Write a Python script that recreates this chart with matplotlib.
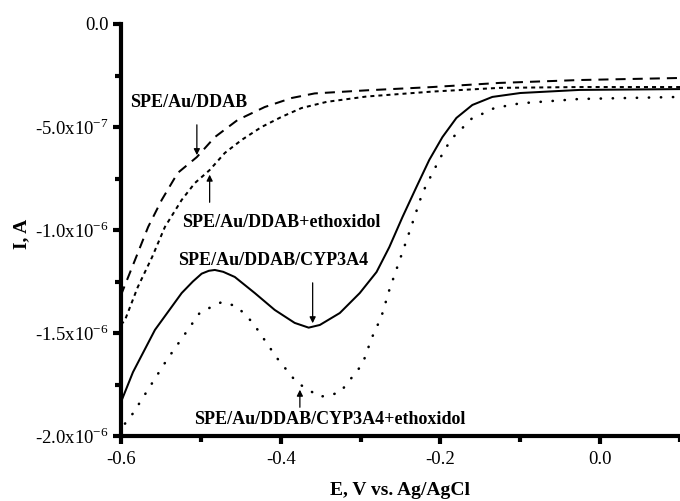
import matplotlib
matplotlib.use('Agg')
import matplotlib.pyplot as plt
from matplotlib.ticker import MultipleLocator, FixedLocator

plt.rcParams['font.family'] = ['Liberation Serif', 'DejaVu Serif']
plt.rcParams['mathtext.fontset'] = 'custom'
plt.rcParams['mathtext.rm'] = 'Liberation Serif'

# potentials in V, currents in uA (scaled to A when plotted)
e_ddab = [-0.6, -0.599, -0.5825, -0.566, -0.549, -0.529, -0.505, -0.4825, -0.454,
          -0.42, -0.386, -0.3575, -0.2925, -0.21, -0.126, -0.026, 0.1]
i_ddab = [-1.32, -1.306, -1.146, -0.985, -0.854, -0.723, -0.646, -0.549, -0.466,
          -0.403, -0.359, -0.337, -0.322, -0.306, -0.286, -0.272, -0.262]

e_ddab_eth = [-0.6, -0.595, -0.579, -0.561, -0.545, -0.524, -0.5075, -0.489, -0.47,
              -0.449, -0.424, -0.399, -0.374, -0.3425, -0.2925, -0.21, -0.126,
              -0.026, 0.1]
i_ddab_eth = [-1.46, -1.437, -1.277, -1.131, -0.985, -0.854, -0.772, -0.709, -0.626,
              -0.563, -0.500, -0.451, -0.408, -0.378, -0.352, -0.328, -0.310,
              -0.306, -0.306]

e_cyp = [-0.6, -0.585, -0.5575, -0.524, -0.51, -0.499, -0.49, -0.4825, -0.472,
         -0.4575, -0.4325, -0.4075, -0.3825, -0.365, -0.351, -0.326, -0.301, -0.28,
         -0.264, -0.2475, -0.23, -0.214, -0.1975, -0.18, -0.16, -0.135, -0.1,
         -0.026, 0.1]
i_cyp = [-1.835, -1.69, -1.485, -1.306, -1.25, -1.212, -1.198, -1.194, -1.203,
         -1.228, -1.306, -1.388, -1.451, -1.474, -1.461, -1.403, -1.306, -1.204,
         -1.083, -0.937, -0.791, -0.660, -0.549, -0.456, -0.393, -0.354, -0.335,
         -0.32, -0.316]

e_cyp_eth = [-0.595, -0.585, -0.5425, -0.501, -0.474, -0.455, -0.435, -0.405, -0.38,
             -0.351, -0.326, -0.2975, -0.286, -0.274, -0.264, -0.251, -0.241, -0.2325,
             -0.2225, -0.21, -0.195, -0.185, -0.1725, -0.16, -0.145, -0.1325,
             -0.1, -0.026, 0.1]
i_cyp_eth = [-1.94, -1.89, -1.63, -1.40, -1.35, -1.37, -1.45, -1.62, -1.74,
             -1.81, -1.79, -1.65, -1.524, -1.422, -1.291, -1.146, -1.034, -0.937,
             -0.820, -0.723, -0.612, -0.553, -0.505, -0.456, -0.432, -0.408,
             -0.385, -0.364, -0.354]

y_ticks = [0.0, -5.0e-7, -1.0e-6, -1.5e-6, -2.0e-6]
y_tick_labels = ['0.0', r'-5.0x10$^{-7}$', r'-1.0x10$^{-6}$',
                 r'-1.5x10$^{-6}$', r'-2.0x10$^{-6}$']


def amps(vals):
    return [v * 1e-6 for v in vals]


fig = plt.figure(figsize=(6.8, 5.01), dpi=100)
ax = fig.add_axes([121 / 680, 65 / 501, 1 - 121 / 680, 412 / 501])

lw = 1.45
ax.plot(e_ddab, amps(i_ddab), color='black', lw=lw, linestyle=(0, (5, 3.5)))
ax.plot(e_ddab_eth, amps(i_ddab_eth), color='black', lw=lw, linestyle=(0, (2, 2)))
ax.plot(e_cyp, amps(i_cyp), color='black', lw=lw)
ax.plot(e_cyp_eth, amps(i_cyp_eth), color='black', lw=lw * 1.3,
        linestyle=(0, (0.1, 4.5)), dash_capstyle='round')

ax.set_xlim(-0.6, 0.1)
ax.set_ylim(-2.0e-6, 0.0)
ax.xaxis.set_major_locator(FixedLocator([-0.6, -0.4, -0.2, 0.0]))
ax.xaxis.set_minor_locator(MultipleLocator(0.1))
ax.set_xticklabels(['-0.6', '-0.4', '-0.2', '0.0'])
ax.yaxis.set_major_locator(FixedLocator(y_ticks))
ax.set_yticklabels(y_tick_labels)
ax.yaxis.set_minor_locator(MultipleLocator(2.5e-7))

for side in ('top', 'right'):
    ax.spines[side].set_visible(False)
for side in ('left', 'bottom'):
    ax.spines[side].set_linewidth(3)
ax.tick_params(which='major', direction='out', length=6, width=3, labelsize=13.5, pad=3)
ax.tick_params(axis='x', which='major', pad=5)
ax.tick_params(which='minor', direction='out', length=4, width=3)

ax.set_xlabel('E, V vs. Ag/AgCl', fontsize=14, fontweight='bold', labelpad=10)
ax.set_ylabel('I, A', fontsize=14, fontweight='bold')
ax.yaxis.set_label_coords(-0.163, 0.49)

# curve labels with arrows
lab = dict(fontsize=13, fontweight='bold', va='center', ha='left')
ax.text(-0.589, -0.383e-6, 'SPE/Au/DDAB', **lab)
ax.text(-0.524, -0.966e-6, 'SPE/Au/DDAB+ethoxidol', **lab)
ax.text(-0.529, -1.146e-6, 'SPE/Au/DDAB/CYP3A4', **lab)
ax.text(-0.508, -1.922e-6, 'SPE/Au/DDAB/CYP3A4+ethoxidol', **lab)

arr = dict(arrowstyle='-|>', color='black', lw=0.9, mutation_scale=9)
ax.annotate('', xy=(-0.505, -0.65e-6), xytext=(-0.505, -0.476e-6), arrowprops=arr)
ax.annotate('', xy=(-0.489, -0.718e-6), xytext=(-0.489, -0.879e-6), arrowprops=arr)
ax.annotate('', xy=(-0.36, -1.466e-6), xytext=(-0.36, -1.243e-6), arrowprops=arr)
ax.annotate('', xy=(-0.376, -1.762e-6), xytext=(-0.376, -1.874e-6), arrowprops=arr)

fig.savefig('out.png', dpi=100)
